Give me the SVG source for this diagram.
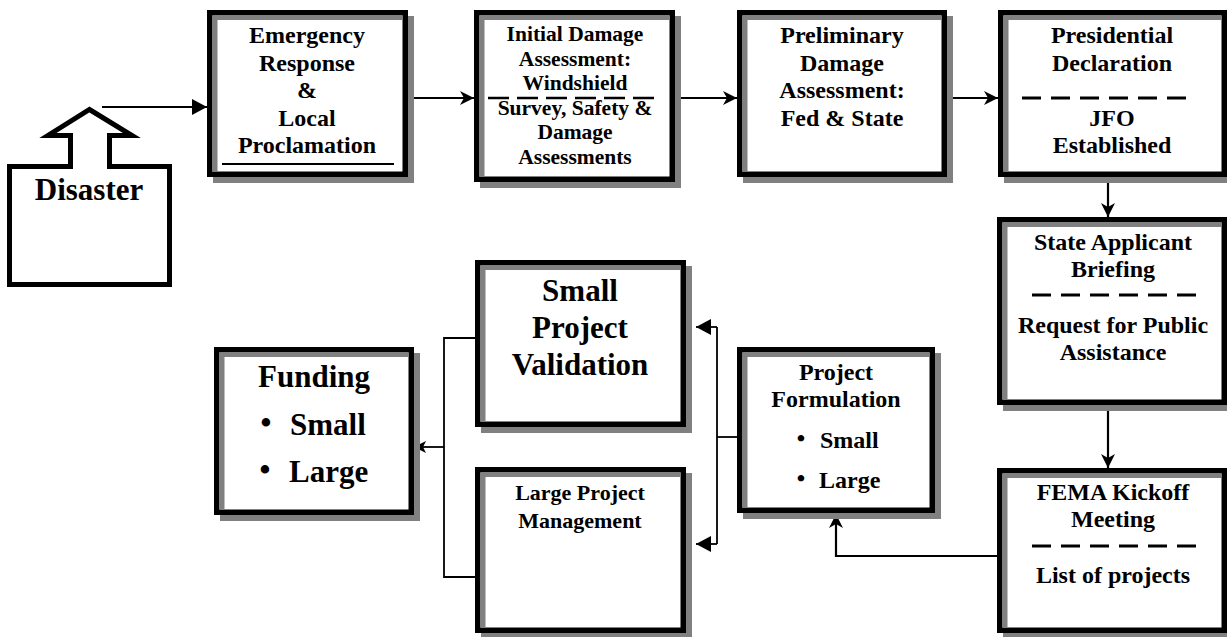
<svg xmlns="http://www.w3.org/2000/svg" width="1227" height="637" viewBox="0 0 1227 637">
<style>
text{font-family:"Liberation Serif","Times New Roman",serif;font-weight:bold;fill:#000;text-anchor:middle}
.t24{font-size:24px}
.t21{font-size:21.5px}
.t22{font-size:22px}
.t31{font-size:31px}
.st{text-anchor:start}
.shadow{fill:#808080}
.frame{fill:#fff;stroke:#000;stroke-width:5.5}
.inner{fill:none;stroke:#808080;stroke-width:5}
.dash{stroke:#000;stroke-width:3;stroke-dasharray:19 10}
.conn{fill:none;stroke:#000;stroke-width:2.2}
.thin{fill:none;stroke:#000;stroke-width:1.8}
</style>
<defs>
<marker id="tri" markerUnits="userSpaceOnUse" viewBox="0 -8 15 16" refX="15" refY="0" markerWidth="15" markerHeight="16" orient="auto">
<path d="M0,-8 L15,0 L0,8 z" fill="#000"/>
</marker>
<marker id="barb" markerUnits="userSpaceOnUse" viewBox="0 -7 14 14" refX="14" refY="0" markerWidth="14" markerHeight="14" orient="auto">
<path d="M0,-7 L14,0 L0,7 L4,0 z" fill="#000"/>
</marker>
<marker id="barbs" markerUnits="userSpaceOnUse" viewBox="0 -6 12 12" refX="12" refY="0" markerWidth="12" markerHeight="12" orient="auto">
<path d="M0,-6 L12,0 L0,6 L3,0 z" fill="#000"/>
</marker>
</defs>

<g id="connectors">
<line class="conn" x1="102" y1="107" x2="207" y2="107" marker-end="url(#tri)"/>
<line class="conn" x1="408" y1="98" x2="474" y2="98" marker-end="url(#barb)"/>
<line class="conn" x1="675" y1="98" x2="737" y2="98" marker-end="url(#barb)"/>
<line class="conn" x1="947" y1="98" x2="998" y2="98" marker-end="url(#barb)"/>
<line class="conn" x1="1108" y1="177" x2="1108" y2="217" marker-end="url(#barb)"/>
<line class="conn" x1="1108" y1="405" x2="1108" y2="468" marker-end="url(#barb)"/>
<polyline class="conn" points="997,556 836,556 836,514" marker-end="url(#barb)"/>
<polyline class="thin" points="737,437 717,437"/>
<polyline class="thin" points="717,327 717,544"/>
<line class="thin" x1="717" y1="327" x2="696" y2="327" marker-end="url(#tri)"/>
<line class="thin" x1="717" y1="544" x2="696" y2="544" marker-end="url(#tri)"/>
<polyline class="thin" points="475,338 444,338 444,577 475,577"/>
<line class="thin" x1="444" y1="447" x2="414" y2="447" marker-end="url(#barbs)"/>
</g>

<g id="disaster">
<path d="M9.5,166.5 L70.5,166.5 L70.5,135.5 L48,135.5 L89.5,109.5 L132,135.5 L109.5,135.5 L109.5,166.5 L169.5,166.5 L169.5,284.5 L9.5,284.5 Z" fill="#fff" stroke="#000" stroke-width="5"/>
<text class="t31" x="89" y="200">Disaster</text>
</g>

<g id="emergency">
<rect class="shadow" x="213" y="16" width="201" height="167"/>
<rect class="frame" x="209.75" y="12.75" width="195.5" height="161.5"/>
<path class="inner" d="M215,172 V17.5 H402.5"/>
<text class="t24" x="307" y="43">Emergency</text>
<text class="t24" x="307" y="71">Response</text>
<text class="t24" x="307" y="98">&amp;</text>
<text class="t24" x="307" y="126">Local</text>
<text class="t24" x="307" y="153">Proclamation</text>
<line x1="222" y1="164" x2="394" y2="164" stroke="#000" stroke-width="2"/>
</g>

<g id="initial">
<rect class="shadow" x="480" y="16" width="201" height="172"/>
<rect class="frame" x="476.75" y="12.75" width="195.5" height="166.5"/>
<path class="inner" d="M482,177 V17.5 H669.5"/>
<line x1="488" y1="98" x2="656" y2="98" stroke="#000" stroke-width="2.5" stroke-dasharray="21 8"/>
<text class="t21" x="575" y="41">Initial Damage</text>
<text class="t21" x="575" y="65.5">Assessment:</text>
<text class="t21" x="575" y="90">Windshield</text>
<text class="t21" x="575" y="114.5">Survey, Safety &amp;</text>
<text class="t21" x="575" y="139">Damage</text>
<text class="t21" x="575" y="163.5">Assessments</text>
</g>

<g id="preliminary">
<rect class="shadow" x="743" y="16" width="210" height="167"/>
<rect class="frame" x="739.75" y="12.75" width="204.5" height="161.5"/>
<path class="inner" d="M745,172 V17.5 H941.5"/>
<text class="t24" x="842" y="43">Preliminary</text>
<text class="t24" x="842" y="71">Damage</text>
<text class="t24" x="842" y="98">Assessment:</text>
<text class="t24" x="842" y="126">Fed &amp; State</text>
</g>

<g id="presidential">
<rect class="shadow" x="1004" y="16" width="229" height="167"/>
<rect class="frame" x="1000.75" y="12.75" width="223.5" height="161.5"/>
<path class="inner" d="M1006,172 V17.5 H1221.5"/>
<text class="t24" x="1112" y="43">Presidential</text>
<text class="t24" x="1112" y="71">Declaration</text>
<line class="dash" x1="1022" y1="98" x2="1189" y2="98"/>
<text class="t24" x="1112" y="126">JFO</text>
<text class="t24" x="1112" y="153">Established</text>
</g>

<g id="state-briefing">
<rect class="shadow" x="1003" y="223" width="230" height="188"/>
<rect class="frame" x="999.75" y="219.75" width="224.5" height="182.5"/>
<path class="inner" d="M1005,400 V224.5 H1221.5"/>
<text class="t24" x="1113" y="250">State Applicant</text>
<text class="t24" x="1113" y="277">Briefing</text>
<line class="dash" x1="1032" y1="295" x2="1200" y2="295"/>
<text class="t24" x="1113" y="333">Request for Public</text>
<text class="t24" x="1113" y="360">Assistance</text>
</g>

<g id="fema-kickoff">
<rect class="shadow" x="1003" y="474" width="230" height="165"/>
<rect class="frame" x="999.75" y="470.75" width="224.5" height="159.5"/>
<path class="inner" d="M1005,628 V475.5 H1221.5"/>
<text class="t24" x="1113" y="500">FEMA Kickoff</text>
<text class="t24" x="1113" y="527">Meeting</text>
<line class="dash" x1="1032" y1="546" x2="1200" y2="546"/>
<text class="t24" x="1113" y="583">List of projects</text>
</g>

<g id="project-formulation">
<rect class="shadow" x="743" y="353" width="198" height="166"/>
<rect class="frame" x="739.75" y="349.75" width="192.5" height="160.5"/>
<path class="inner" d="M745,508 V354.5 H929.5"/>
<text class="t24" x="836" y="380">Project</text>
<text class="t24" x="836" y="407">Formulation</text>
<text class="t24" x="801" y="446">•</text>
<text class="t24 st" x="820" y="448">Small</text>
<text class="t24" x="801" y="486">•</text>
<text class="t24 st" x="819" y="488">Large</text>
</g>

<g id="small-project-validation">
<rect class="shadow" x="481" y="266" width="211" height="167"/>
<rect class="frame" x="477.75" y="262.75" width="205.5" height="161.5"/>
<path class="inner" d="M483,422 V267.5 H680.5"/>
<text class="t31" x="580" y="301">Small</text>
<text class="t31" x="580" y="338">Project</text>
<text class="t31" x="580" y="375">Validation</text>
</g>

<g id="large-project-management">
<rect class="shadow" x="481" y="473" width="211" height="166"/>
<rect class="frame" x="477.75" y="469.75" width="205.5" height="160.5"/>
<path class="inner" d="M483,628 V474.5 H680.5"/>
<text class="t22" x="580" y="500">Large Project</text>
<text class="t22" x="580" y="528">Management</text>
</g>

<g id="funding">
<rect class="shadow" x="220" y="353" width="200" height="168"/>
<rect class="frame" x="216.75" y="349.75" width="194.5" height="162.5"/>
<path class="inner" d="M222,510 V354.5 H408.5"/>
<text class="t31" x="314" y="387">Funding</text>
<text class="t31" x="266" y="433">•</text>
<text class="t31 st" x="290" y="435">Small</text>
<text class="t31" x="265" y="480">•</text>
<text class="t31 st" x="289" y="482">Large</text>
</g>
</svg>
